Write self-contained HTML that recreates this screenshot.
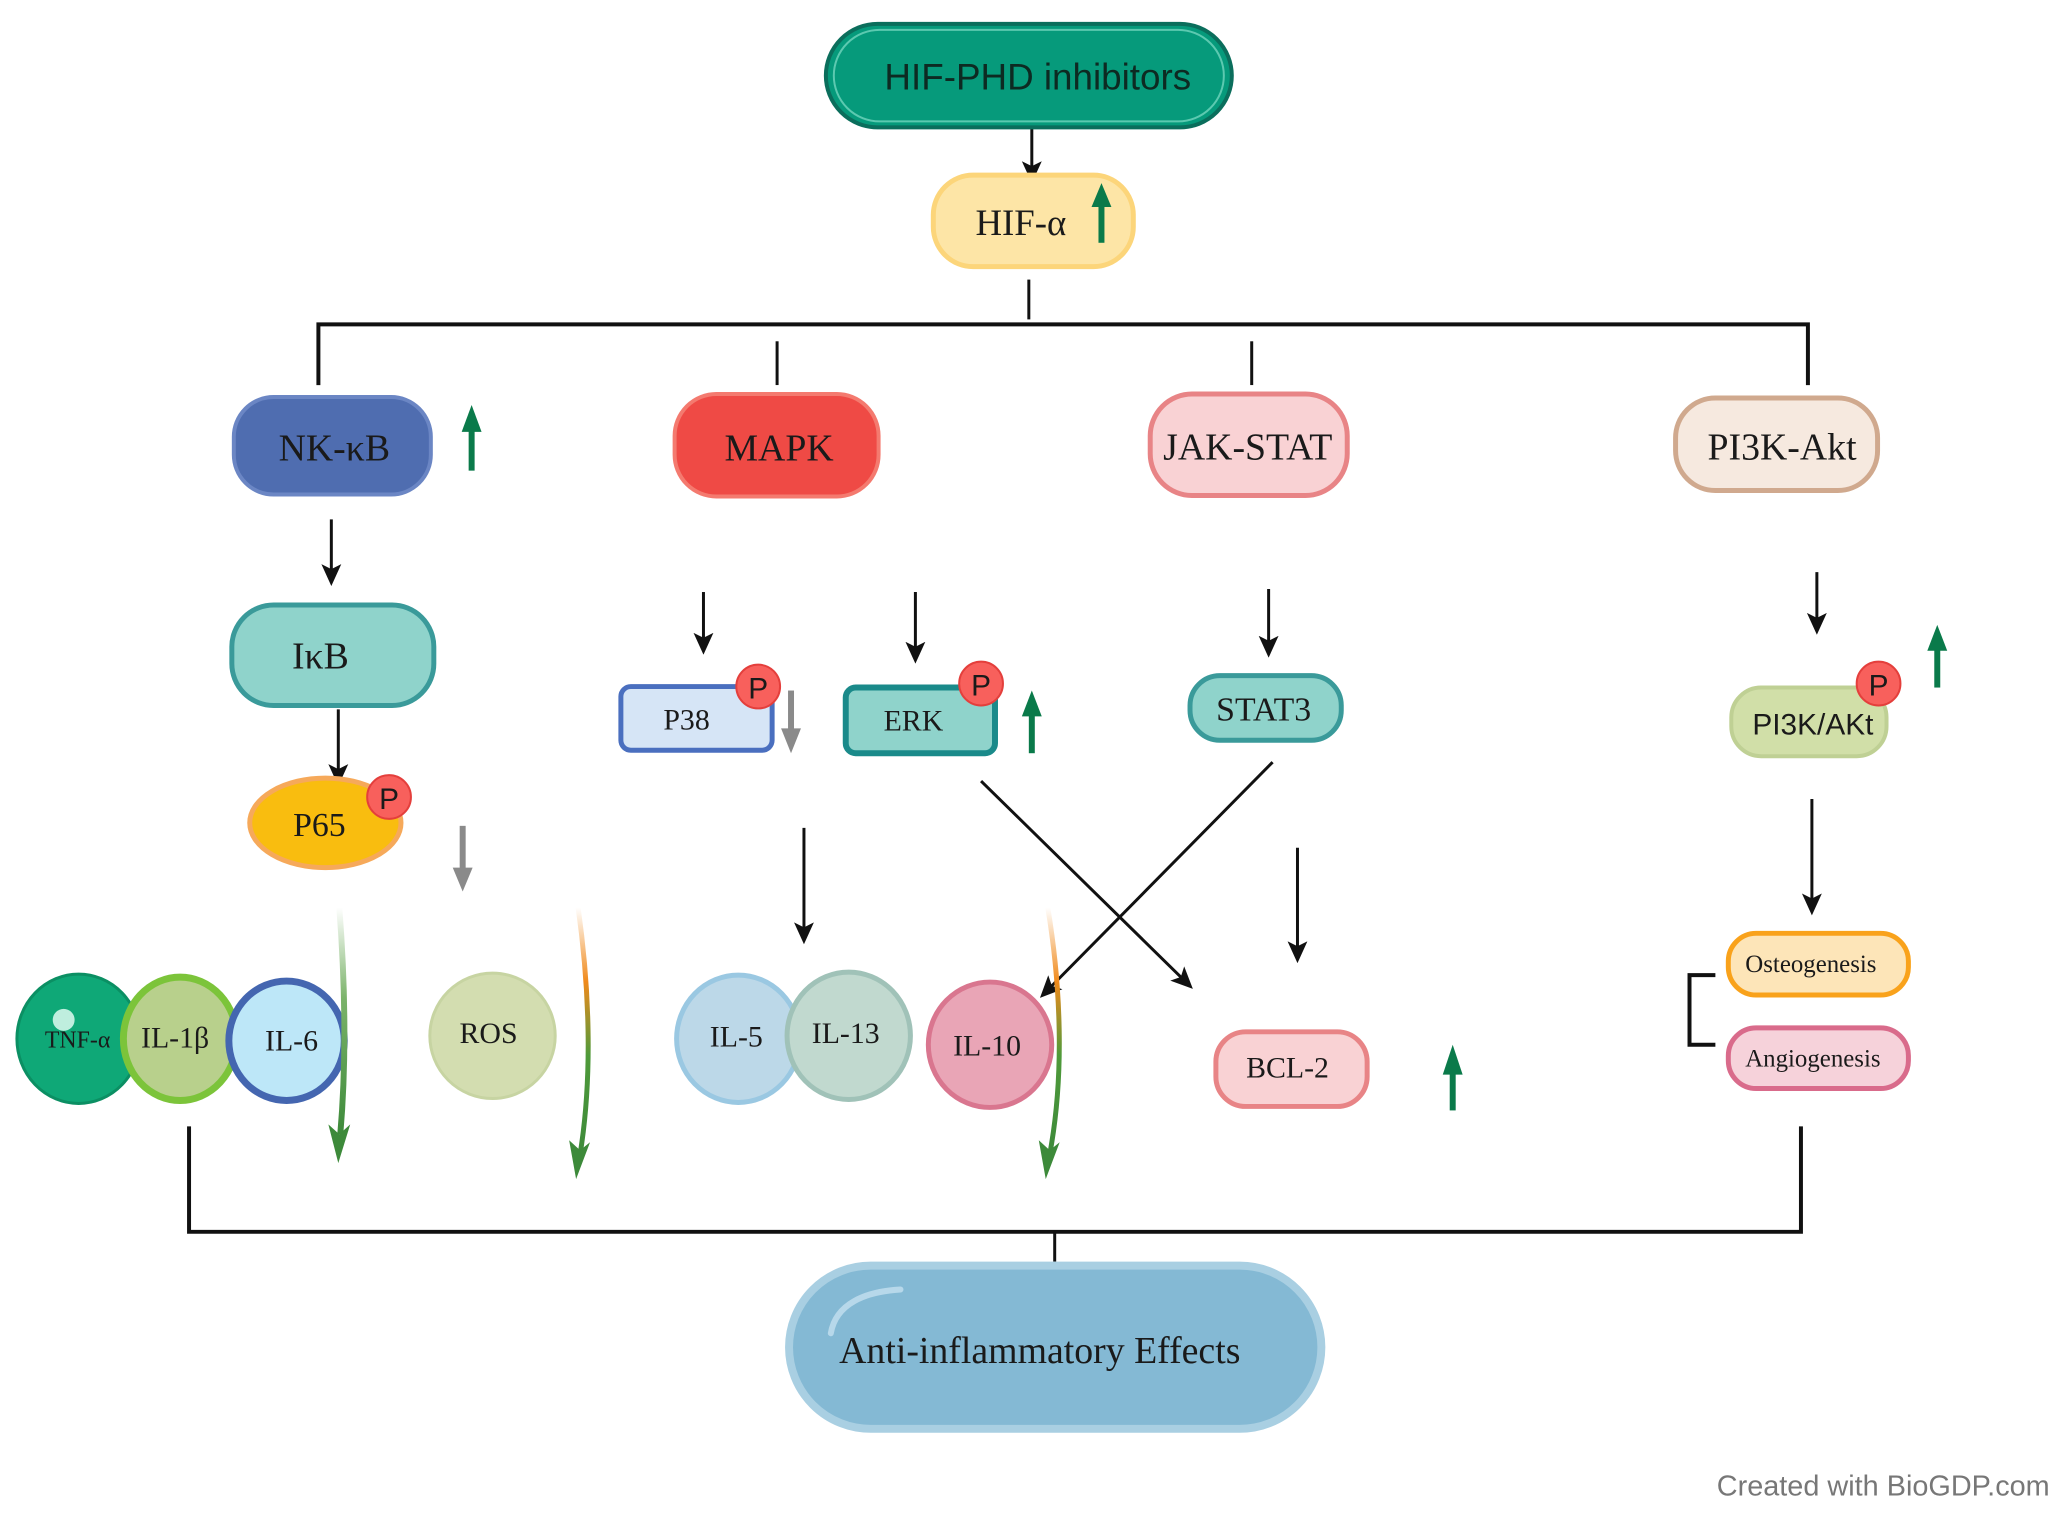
<!DOCTYPE html>
<html><head><meta charset="utf-8"><style>
html,body{margin:0;padding:0;background:#fff;}
svg{display:block;}
text{font-family:"Liberation Serif",serif;fill:#1a1a1a;}
.s{font-family:"Liberation Sans",sans-serif;}
</style></head><body>
<svg width="2061" height="1515" viewBox="0 0 2061 1515" xmlns="http://www.w3.org/2000/svg">
<defs>
<marker id="ahb" markerWidth="22" markerHeight="22" refX="18" refY="11" orient="auto" markerUnits="userSpaceOnUse" viewBox="0 0 22 22"><path d="M0,1 L22,11 L0,21 L5,11z" fill="#111"/></marker>
<linearGradient id="gg" x1="0" y1="0" x2="0" y2="1"><stop offset="0" stop-color="#fff"/><stop offset="0.4" stop-color="#7bb36a"/><stop offset="1" stop-color="#3d8a3a"/></linearGradient>
<linearGradient id="go" x1="0" y1="0" x2="0" y2="1"><stop offset="0" stop-color="#fff"/><stop offset="0.3" stop-color="#f08a1c"/><stop offset="0.6" stop-color="#4f9a3a"/><stop offset="1" stop-color="#3d8a3a"/></linearGradient>
</defs>
<g transform="scale(0.995)">
<g stroke="#111" stroke-width="3" fill="none">
<line x1="1034" y1="281" x2="1034" y2="321"/>
<polyline points="320,387 320,326 1817,326 1817,387" stroke-width="4"/>
<line x1="781" y1="343" x2="781" y2="387"/>
<line x1="1258" y1="343" x2="1258" y2="387"/>
<polyline points="190,1132 190,1238 1810,1238 1810,1132" stroke-width="4"/>
<line x1="1060" y1="1238" x2="1060" y2="1268"/>
<polyline points="1724,980 1698,980 1698,1050 1724,1050" stroke-width="4"/>
</g>
<g stroke="#111" stroke-width="3" marker-end="url(#ahb)">
<line x1="1037" y1="128" x2="1037" y2="180"/>
<line x1="333" y1="522" x2="333" y2="585"/>
<line x1="340" y1="713" x2="340" y2="786"/>
<line x1="707" y1="595" x2="707" y2="654"/>
<line x1="920" y1="595" x2="920" y2="663"/>
<line x1="1275" y1="592" x2="1275" y2="657"/>
<line x1="1826" y1="575" x2="1826" y2="634"/>
<line x1="808" y1="832" x2="808" y2="945"/>
<line x1="1304" y1="852" x2="1304" y2="964"/>
<line x1="1821" y1="803" x2="1821" y2="916"/>
<line x1="986" y1="785" x2="1196" y2="991"/>
<line x1="1279" y1="766" x2="1048" y2="1000"/>
</g>
<rect x="830" y="24" width="408" height="104" rx="52" fill="#069a7b" stroke="#0b6e5c" stroke-width="4"/>
<rect x="838" y="30" width="392" height="92" rx="46" fill="none" stroke="#5cc9b0" stroke-width="2"/>
<text x="1043" y="90" class="s" font-size="37" text-anchor="middle" style="fill:#0d2a22">HIF-PHD inhibitors</text>
<rect x="938" y="176" width="201" height="92" rx="40" fill="#fde5a6" stroke="#fcd57a" stroke-width="5"/>
<text x="1026" y="236" font-size="37" text-anchor="middle">HIF-α</text>
<g fill="#0a7a4a"><rect x="1104" y="204" width="6" height="40"/><path d="M1097,208 L1107,184 L1117,208z"/></g>
<rect x="235" y="399" width="198" height="98" rx="40" fill="#4f6db0" stroke="#6b86c4" stroke-width="4"/>
<text x="336" y="463" font-size="38" text-anchor="middle">NK-κB</text>
<rect x="678" y="396" width="205" height="103" rx="42" fill="#ef4a45" stroke="#f47a6f" stroke-width="4"/>
<text x="783" y="463" font-size="38" text-anchor="middle">MAPK</text>
<rect x="1156" y="396" width="198" height="102" rx="42" fill="#f9d2d4" stroke="#e88486" stroke-width="5"/>
<text x="1254" y="462" font-size="38" text-anchor="middle">JAK-STAT</text>
<rect x="1684" y="400" width="203" height="93" rx="40" fill="#f6e9df" stroke="#d0a98e" stroke-width="5"/>
<text x="1791" y="462" font-size="38" text-anchor="middle">PI3K-Akt</text>
<g fill="#0a7a4a"><rect x="471" y="430" width="6" height="43"/><path d="M464,434 L474,407 L484,434z"/></g>
<rect x="233" y="608" width="203" height="101" rx="42" fill="#8fd3cb" stroke="#3a9a9a" stroke-width="5"/>
<text x="322" y="672" font-size="38" text-anchor="middle">IκB</text>
<ellipse cx="327" cy="827" rx="76" ry="45" fill="#f9bd0f" stroke="#f6a95a" stroke-width="5"/>
<text x="321" y="840" font-size="34" text-anchor="middle">P65</text>
<circle cx="391" cy="801" r="22" fill="#f8605c" stroke="#e43f3c" stroke-width="2"/>
<text x="391" y="813" class="s" font-size="30" text-anchor="middle">P</text>
<g fill="#8a8a8a"><rect x="462" y="830" width="6" height="46"/><path d="M455,872 L465,896 L475,872z"/></g>
<rect x="624" y="690" width="152" height="64" rx="10" fill="#d6e5f6" stroke="#4a6fbf" stroke-width="5"/>
<text x="690" y="733" font-size="30" text-anchor="middle">P38</text>
<circle cx="762" cy="690" r="22" fill="#f8605c" stroke="#e43f3c" stroke-width="2"/>
<text x="762" y="702" class="s" font-size="30" text-anchor="middle">P</text>
<g fill="#8a8a8a"><rect x="792" y="694" width="6" height="42"/><path d="M785,732 L795,757 L805,732z"/></g>
<rect x="850" y="691" width="150" height="66" rx="10" fill="#8fd3cb" stroke="#1a8a8a" stroke-width="6"/>
<text x="918" y="734" font-size="30" text-anchor="middle">ERK</text>
<circle cx="986" cy="687" r="22" fill="#f8605c" stroke="#e43f3c" stroke-width="2"/>
<text x="986" y="699" class="s" font-size="30" text-anchor="middle">P</text>
<g fill="#0a7a4a"><rect x="1034" y="716" width="6" height="41"/><path d="M1027,720 L1037,694 L1047,720z"/></g>
<rect x="1196" y="679" width="152" height="65" rx="30" fill="#8fd3cb" stroke="#3a9a9a" stroke-width="5"/>
<text x="1270" y="724" font-size="34" text-anchor="middle">STAT3</text>
<rect x="1740" y="691" width="156" height="69" rx="30" fill="#d1dfa8" stroke="#bfd094" stroke-width="4"/>
<text x="1822" y="738" class="s" font-size="30" text-anchor="middle">PI3K/AKt</text>
<circle cx="1888" cy="687" r="22" fill="#f8605c" stroke="#e43f3c" stroke-width="2"/>
<text x="1888" y="699" class="s" font-size="30" text-anchor="middle">P</text>
<g fill="#0a7a4a"><rect x="1944" y="650" width="6" height="41"/><path d="M1937,654 L1947,628 L1957,654z"/></g>
<rect x="1737" y="938" width="181" height="62" rx="28" fill="#fde5b8" stroke="#f9a21b" stroke-width="5"/>
<text x="1820" y="977" font-size="25" text-anchor="middle">Osteogenesis</text>
<rect x="1737" y="1033" width="181" height="61" rx="28" fill="#f6d2da" stroke="#d96b8b" stroke-width="5"/>
<text x="1822" y="1072" font-size="25" text-anchor="middle">Angiogenesis</text>
<ellipse cx="79" cy="1044" rx="62" ry="65" fill="#0fa877" stroke="#0b8f63" stroke-width="3"/>
<circle cx="64" cy="1025" r="11" fill="#bfeede"/>
<text x="78" y="1053" font-size="24" text-anchor="middle">TNF-α</text>
<ellipse cx="181" cy="1044" rx="57" ry="62" fill="#b8d08c" stroke="#7cc43a" stroke-width="7"/>
<text x="176" y="1053" font-size="30" text-anchor="middle">IL-1β</text>
<ellipse cx="288" cy="1046" rx="58" ry="60" fill="#bde7f8" stroke="#4466b0" stroke-width="7"/>
<text x="293" y="1056" font-size="30" text-anchor="middle">IL-6</text>
<ellipse cx="495" cy="1041" rx="63" ry="63" fill="#d3ddb0" stroke="#c7d4a2" stroke-width="3"/>
<text x="491" y="1048" font-size="30" text-anchor="middle">ROS</text>
<ellipse cx="742" cy="1044" rx="62" ry="64" fill="#bcd8e8" stroke="#9ac8e2" stroke-width="5"/>
<ellipse cx="853" cy="1041" rx="62" ry="64" fill="#c1d9cf" stroke="#a0c2b8" stroke-width="5"/>
<text x="740" y="1052" font-size="30" text-anchor="middle">IL-5</text>
<text x="850" y="1048" font-size="30" text-anchor="middle">IL-13</text>
<ellipse cx="995" cy="1050" rx="62" ry="63" fill="#e9a5b6" stroke="#d9768f" stroke-width="5"/>
<text x="992" y="1061" font-size="30" text-anchor="middle">IL-10</text>
<rect x="1222" y="1037" width="152" height="75" rx="30" fill="#f9d2d4" stroke="#e88486" stroke-width="5"/>
<text x="1294" y="1083" font-size="30" text-anchor="middle">BCL-2</text>
<g fill="#0a7a4a"><rect x="1457" y="1076" width="6" height="40"/><path d="M1450,1080 L1460,1050 L1470,1080z"/></g>
<path d="M341,912 C347,990 348,1070 342,1140" stroke="url(#gg)" stroke-width="6" fill="none"/>
<path d="M330,1130 L340,1169 L352,1130 L341,1140z" fill="#3d8a3a"/>
<path d="M581,912 C592,990 596,1080 583,1160" stroke="url(#go)" stroke-width="5" fill="none"/>
<path d="M572,1146 L579,1185 L593,1148 L583,1156z" fill="#3d8a3a"/>
<path d="M1053,912 C1066,990 1070,1080 1055,1160" stroke="url(#go)" stroke-width="5" fill="none"/>
<path d="M1044,1146 L1051,1185 L1065,1148 L1055,1156z" fill="#3d8a3a"/>
<rect x="793" y="1272" width="535" height="164" rx="82" fill="#84b9d4" stroke="#a9cfe2" stroke-width="8"/>
<path d="M835,1340 C840,1310 870,1298 905,1296" stroke="#b7d8ea" stroke-width="6" fill="none" stroke-linecap="round"/>
<text x="1045" y="1370" font-size="38" text-anchor="middle">Anti-inflammatory Effects</text>
<text x="2060" y="1503" class="s" font-size="29" text-anchor="end" style="fill:#777">Created with BioGDP.com</text>
</g>
</svg>
</body></html>
